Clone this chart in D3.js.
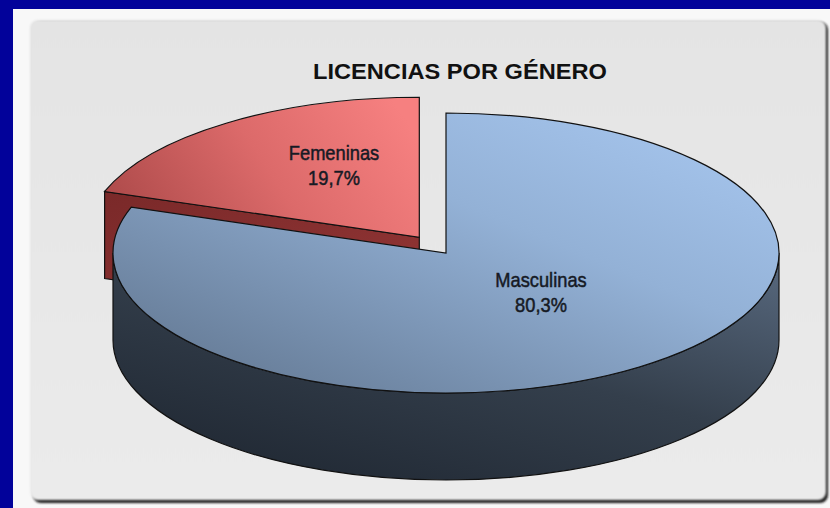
<!DOCTYPE html>
<html>
<head>
<meta charset="utf-8">
<script src="https://cdn.jsdelivr.net/npm/d3@7"></script>
<style>
  html, body { margin: 0; padding: 0; background: #02029a; }
  svg { display: block; }
</style>
</head>
<body>
<div id="chart"></div>
<script>
// data
var categories = ["Masculinas", "Femeninas"];
var values = [80.3, 19.7];
var valueLabels = ["80,3%", "19,7%"];
var exploded = [false, true];
var title = "LICENCIAS POR GÉNERO";

var width = 830, height = 508;

// ellipse of the pie top face
var cx = 446, cy = 253, rx = 333, ry = 140, depth = 87;
var k = ry / rx;            // vertical squash
var D = depth / k;          // depth in unsquashed units
var explodeR = 46;

var svg = d3.select("#chart").append("svg")
    .attr("width", width)
    .attr("height", height);

var defs = svg.append("defs");

function grad(id, x1, y1, x2, y2, stops) {
    var g = defs.append("linearGradient").attr("id", id)
        .attr("x1", x1).attr("y1", y1).attr("x2", x2).attr("y2", y2);
    stops.forEach(function(s) {
        g.append("stop").attr("offset", s[0]).attr("stop-color", s[1]);
    });
}
grad("panelGrad", 0, 0, 0, 1, [[0, "#e4e4e4"], [1, "#ebebeb"]]);
grad("blueTop", 1, 0, 0, 1, [[0, "#a9c9f2"], [0.4, "#93b1d6"], [1, "#5d718a"]]);
grad("blueSide", 1, 0, 0.2, 1, [[0, "#596a80"], [0.5, "#343f4c"], [1, "#202833"]]);
grad("redTop", 1, 0.3, 0, 0.6, [[0, "#f68080"], [0.5, "#dc6a6a"], [1, "#b04c4c"]]);
grad("redSide", 0, 0, 1, 1, [[0, "#7a2929"], [1, "#943636"]]);

var blur = defs.append("filter").attr("id", "soft")
    .attr("x", "-5%").attr("y", "-5%").attr("width", "110%").attr("height", "110%");
blur.append("feGaussianBlur").attr("stdDeviation", 1.2);

// background frame
svg.append("rect")
    .attr("x", 13).attr("y", 9)
    .attr("width", width - 13).attr("height", height - 9)
    .attr("fill", "#f8f8f8");

// panel with shadow
svg.append("rect")
    .attr("x", 33).attr("y", 22)
    .attr("width", 795).attr("height", 481)
    .attr("rx", 8)
    .attr("fill", "#1c1c1c")
    .attr("filter", "url(#soft)");
svg.append("rect")
    .attr("x", 30).attr("y", 20)
    .attr("width", 796).attr("height", 480)
    .attr("rx", 8)
    .attr("fill", "url(#panelGrad)")
    .attr("filter", "url(#soft)");

// title
svg.append("text")
    .attr("x", 460)
    .attr("y", 79)
    .attr("text-anchor", "middle")
    .attr("textLength", 294)
    .attr("lengthAdjust", "spacingAndGlyphs")
    .style("font-family", "'Liberation Sans', Arial, sans-serif")
    .style("font-weight", "bold")
    .style("font-size", "22px")
    .attr("fill", "#111")
    .text(title);

// pie layout
var pie = d3.pie().sort(null).startAngle(0).endAngle(2 * Math.PI);
var arcs = pie(values).map(function(d, i) {
    var mid = (d.startAngle + d.endAngle) / 2;
    var off = exploded[i] ? explodeR : 0;
    d.name = categories[i];
    d.label = valueLabels[i];
    d.dx = Math.sin(mid) * off;
    d.dy = -Math.cos(mid) * off;
    return d;
});

var arcGen = d3.arc().innerRadius(0).outerRadius(rx);

// point on the unsquashed circle for a pie angle
function pt(a, r) {
    return [Math.sin(a) * r, -Math.cos(a) * r];
}

// outer side wall, limited to the front half (pi/2 .. 3pi/2)
function sidePath(d) {
    var a0 = Math.max(d.startAngle, Math.PI / 2);
    var a1 = Math.min(d.endAngle, 3 * Math.PI / 2);
    if (a1 <= a0) return null;
    var p = d3.path();
    var s = pt(a0, rx), e = pt(a1, rx);
    p.moveTo(s[0], s[1]);
    p.arc(0, 0, rx, a0 - Math.PI / 2, a1 - Math.PI / 2);
    p.lineTo(e[0], e[1] + D);
    p.arc(0, D, rx, a1 - Math.PI / 2, a0 - Math.PI / 2, true);
    p.closePath();
    return p.toString();
}

// radial wall at the slice start angle
function radialPath(a) {
    var e = pt(a, rx);
    var p = d3.path();
    p.moveTo(0, 0);
    p.lineTo(e[0], e[1]);
    p.lineTo(e[0], e[1] + D);
    p.lineTo(0, D);
    p.closePath();
    return p.toString();
}

var pieG = svg.append("g")
    .attr("transform", "translate(" + cx + "," + cy + ") scale(1," + k + ")");

var topFill = ["url(#blueTop)", "url(#redTop)"];
var sideFill = ["url(#blueSide)", "url(#redSide)"];

// draw back slice (exploded) first, then front slice
var order = [1, 0];
order.forEach(function(i) {
    var d = arcs[i];
    var g = pieG.append("g")
        .attr("transform", "translate(" + d.dx + "," + d.dy + ")");

    if (i === 1) {
        g.append("path")
            .attr("d", radialPath(d.startAngle))
            .attr("fill", sideFill[i])
            .attr("stroke", "#111")
            .attr("stroke-width", 1.2)
            .attr("vector-effect", "non-scaling-stroke");
    }

    var sp = sidePath(d);
    if (sp) {
        g.append("path")
            .attr("d", sp)
            .attr("fill", sideFill[i])
            .attr("stroke", "#111")
            .attr("stroke-width", 1.2)
            .attr("vector-effect", "non-scaling-stroke");
    }

    g.append("path")
        .attr("d", arcGen(d))
        .attr("fill", topFill[i])
        .attr("stroke", "#111")
        .attr("stroke-width", 1.2)
        .attr("vector-effect", "non-scaling-stroke");
});

// labels (condensed look via horizontal squeeze)
var labelPos = [[541, 287], [334, 160]];
arcs.forEach(function(d, i) {
    var t = svg.append("g")
        .attr("transform", "translate(" + labelPos[i][0] + "," + labelPos[i][1] + ") scale(0.87,1)")
        .append("text")
        .attr("text-anchor", "middle")
        .style("font-family", "'Liberation Sans', Arial, sans-serif")
        .style("font-size", "21px")
        .attr("fill", "#161a24")
        .attr("stroke", "#161a24")
        .attr("stroke-width", 0.5);
    t.append("tspan")
        .attr("x", 0).attr("y", 0)
        .text(d.name);
    t.append("tspan")
        .attr("x", 0).attr("y", 25)
        .text(d.label);
});
</script>
</body>
</html>
